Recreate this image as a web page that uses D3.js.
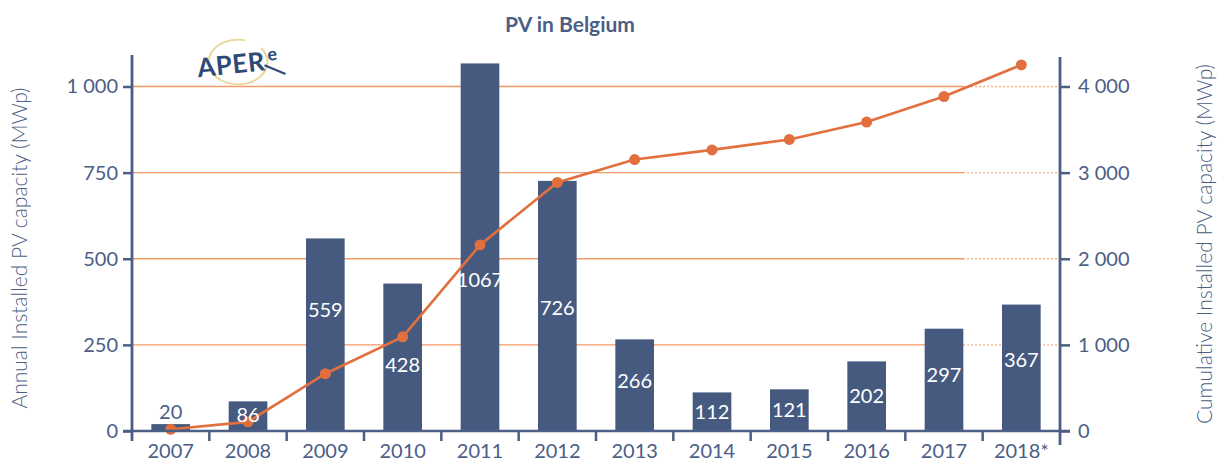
<!DOCTYPE html>
<html>
<head>
<meta charset="utf-8">
<script src="https://cdn.jsdelivr.net/npm/d3@7"></script>
<style>
  body { margin: 0; background: #fff; }
  svg text { font-family: Lato, "Noto Sans", sans-serif; }
</style>
</head>
<body>
<svg id="chart" width="1226" height="463"></svg>
<script>
// Data
const years = ["2007", "2008", "2009", "2010", "2011", "2012", "2013", "2014", "2015", "2016", "2017", "2018*"];
const annual = [20, 86, 559, 428, 1067, 726, 266, 112, 121, 202, 297, 367];
const cumulative = [20, 106, 665, 1093, 2160, 2886, 3152, 3264, 3385, 3587, 3884, 4251];
const leftTicks = [0, 250, 500, 750, 1000];
const rightTicks = [0, 1000, 2000, 3000, 4000];

const blue = "#465a80";
const textBlue = "#4b5e86";
const orange = "#e2703f";
const gridOrange = "#f09a66";

const svg = d3.select("#chart");

const plotLeft = 132, plotRight = 1060, plotBase = 431, plotTop = 86.5;

const x = d3.scaleBand().domain(years).range([plotLeft, plotRight]).paddingInner(0.5).paddingOuter(0.25);
const yL = d3.scaleLinear().domain([0, 1000]).range([plotBase, plotTop]);
const yR = d3.scaleLinear().domain([0, 4000]).range([plotBase, plotTop]);

const fmt = d3.formatLocale({ decimal: ".", thousands: " ", grouping: [3], currency: ["", ""] }).format(",d");

// where the value label sits inside each bar (fraction of bar height)
const labelFrac = [null, 0.54, 0.63, 0.45, 0.41, 0.49, 0.55, 0.49, 0.5, 0.51, 0.55, 0.56];

// Title
svg.append("text")
    .attr("x", 570).attr("y", 32)
    .attr("text-anchor", "middle")
    .attr("font-family", "'Open Sans', sans-serif")
    .attr("font-size", 21).attr("font-weight", 700)
    .attr("fill", textBlue)
    .text("PV in Belgium");

// Logo (APERe)
const logo = svg.append("g").attr("transform", "translate(238,62)");
logo.append("path")
    .attr("d", d3.arc()({ innerRadius: 27, outerRadius: 29, startAngle: 0.9, endAngle: 2 * Math.PI + 0.25 }))
    .attr("transform", "scale(1.05,0.8)")
    .attr("fill", "#e8d597");
const logoText = logo.append("g").attr("transform", "rotate(-6)");
logoText.append("text")
    .attr("x", -41).attr("y", 11)
    .attr("font-size", 26).attr("font-weight", 700)
    .attr("letter-spacing", 0.5)
    .attr("fill", "#2f4a78")
    .text("APER");
logoText.append("text")
    .attr("x", 30).attr("y", 2)
    .attr("font-size", 18).attr("font-weight", 700)
    .attr("fill", "#2f4a78")
    .text("e");
logoText.append("line")
    .attr("x1", 26).attr("y1", 6).attr("x2", 46).attr("y2", 17)
    .attr("stroke", "#2f4a78").attr("stroke-width", 2.2);

// Gridlines: solid until the end of the 2017 bar, dotted after
const solidEnd = x("2017") + x.bandwidth();
const grid = svg.append("g");
leftTicks.filter(d => d > 0).forEach(d => {
    grid.append("line")
        .attr("x1", plotLeft).attr("x2", solidEnd)
        .attr("y1", yL(d)).attr("y2", yL(d))
        .attr("stroke", gridOrange).attr("stroke-width", 1.3);
    grid.append("line")
        .attr("x1", solidEnd).attr("x2", plotRight)
        .attr("y1", yL(d)).attr("y2", yL(d))
        .attr("stroke", gridOrange).attr("stroke-width", 1.3)
        .attr("stroke-dasharray", "1.5,2.5");
});

// Bars
svg.append("g").selectAll("rect")
    .data(annual)
    .join("rect")
    .attr("x", (d, i) => x(years[i]))
    .attr("width", x.bandwidth())
    .attr("y", d => yL(d))
    .attr("height", d => plotBase - yL(d))
    .attr("fill", blue);

// Cumulative line
const pts = cumulative.map((d, i) => [x(years[i]) + x.bandwidth() / 2, yR(d)]);
svg.append("path")
    .attr("d", d3.line()(pts))
    .attr("fill", "none")
    .attr("stroke", orange)
    .attr("stroke-width", 2.6);
svg.append("g").selectAll("circle")
    .data(pts)
    .join("circle")
    .attr("cx", d => d[0]).attr("cy", d => d[1])
    .attr("r", 5.5)
    .attr("fill", orange);

// Value labels
svg.append("g").selectAll("text")
    .data(annual)
    .join("text")
    .attr("x", (d, i) => x(years[i]) + x.bandwidth() / 2)
    .attr("y", (d, i) => labelFrac[i] === null ? yL(d) - 12 : yL(d * labelFrac[i]))
    .attr("dy", "0.35em")
    .attr("text-anchor", "middle")
    .attr("font-size", 20).attr("font-weight", 400)
    .attr("fill", (d, i) => labelFrac[i] === null ? textBlue : "#fff")
    .text(d => d);

// Left axis
const axL = svg.append("g")
    .attr("transform", `translate(${plotLeft},0)`)
    .call(d3.axisLeft(yL).tickValues(leftTicks).tickFormat(fmt).tickSize(9).tickPadding(5));
// Right axis
const axR = svg.append("g")
    .attr("transform", `translate(${plotRight},0)`)
    .call(d3.axisRight(yR).tickValues(rightTicks).tickFormat(fmt).tickSize(10).tickPadding(8));
// Bottom axis (ticks at band boundaries)
const axB = svg.append("g")
    .attr("transform", `translate(0,${plotBase})`)
    .call(d3.axisBottom(x).tickSize(0).tickPadding(13));

[axL, axR, axB].forEach(g => {
    g.select(".domain").remove();
    g.selectAll(".tick line").attr("stroke", textBlue).attr("stroke-width", 2.5);
    g.selectAll(".tick text")
        .attr("fill", textBlue)
        .attr("font-size", 20)
        .attr("font-weight", 400)
        .attr("font-family", "Lato, 'Noto Sans', sans-serif");
});

const axisColor = textBlue;
// baseline
svg.append("line")
    .attr("x1", plotLeft - 9).attr("x2", plotRight + 10)
    .attr("y1", plotBase).attr("y2", plotBase)
    .attr("stroke", axisColor).attr("stroke-width", 2.5);
// boundary ticks on x axis
svg.append("g").selectAll("line")
    .data(years.slice(1))
    .join("line")
    .attr("x1", d => x(d) - x.step() * x.paddingInner() / 2)
    .attr("x2", d => x(d) - x.step() * x.paddingInner() / 2)
    .attr("y1", plotBase).attr("y2", plotBase + 10)
    .attr("stroke", axisColor).attr("stroke-width", 2.5);
// vertical axis lines
svg.append("line")
    .attr("x1", plotLeft).attr("x2", plotLeft).attr("y1", 55).attr("y2", 441)
    .attr("stroke", axisColor).attr("stroke-width", 2.8);
svg.append("line")
    .attr("x1", plotRight).attr("x2", plotRight).attr("y1", 57).attr("y2", 445)
    .attr("stroke", axisColor).attr("stroke-width", 2.8);

// Axis titles
svg.append("text")
    .attr("transform", "translate(27,248) rotate(-90)")
    .attr("text-anchor", "middle")
    .attr("font-size", 21).attr("font-weight", 300)
    .attr("fill", textBlue)
    .text("Annual Installed PV capacity (MWp)");
svg.append("text")
    .attr("transform", "translate(1212,244) rotate(-90)")
    .attr("text-anchor", "middle")
    .attr("font-size", 21).attr("font-weight", 300)
    .attr("fill", textBlue)
    .text("Cumulative Installed PV capacity (MWp)");
</script>
</body>
</html>
